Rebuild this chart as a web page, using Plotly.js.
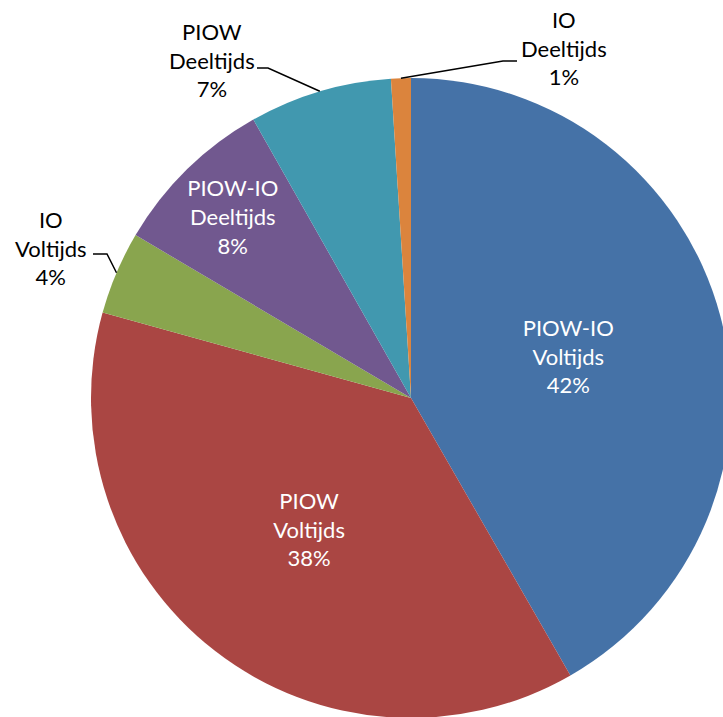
<!DOCTYPE html>
<html>
<head>
<meta charset="utf-8">
<script src="https://cdn.plot.ly/plotly-3.0.1.min.js"></script>
<style>
html,body{margin:0;padding:0;overflow:hidden;background:#fff;}
#chart{width:731px;height:718px;}
</style>
</head>
<body>
<div id="chart"></div>
<script>
// Data (percent shares, clockwise from 12 o'clock)
const categories = ["PIOW-IO<br>Voltijds", "PIOW<br>Voltijds", "IO<br>Voltijds", "PIOW-IO<br>Deeltijds", "PIOW<br>Deeltijds", "IO<br>Deeltijds"];
const values = [41.7, 37.6, 4.2, 8.3, 7.2, 1.0];
const colors = ["#4572A7", "#AA4643", "#89A54E", "#71588F", "#4198AF", "#DB843D"];
const outsideLabels = [false, false, true, false, true, true];

const W = 731, H = 718;
const cx = 411, cy = 398, R = 320;
const FONT = "Lato, 'Open Sans', sans-serif";

// label placement for outside labels: [text center x, y, stub start x, stub end x, stub y]
const outsidePlacement = {
  2: {tx: 51, ty: 248, sx0: 93, sx1: 107, sy: 254},
  4: {tx: 212, ty: 60, sx0: 257, sx1: 268, sy: 68},
  5: {tx: 564, ty: 48, sx0: 517, sx1: 503, sy: 61}
};

const px = x => x / W;
const py = y => 1 - y / H;

const total = values.reduce((a, b) => a + b, 0);
let cum = 0;
const annotations = [];
const shapes = [];
values.forEach((v, i) => {
  const mid = (cum + v / 2) / total * 2 * Math.PI;
  cum += v;
  if (!outsideLabels[i]) return;
  const ex = cx + R * Math.sin(mid);
  const ey = cy - R * Math.cos(mid);
  const p = outsidePlacement[i];
  const pct = Math.round(v / total * 100) + "%";
  annotations.push({
    x: px(p.tx), y: py(p.ty), xref: "paper", yref: "paper",
    text: categories[i] + "<br>" + pct, showarrow: false,
    xanchor: "center", yanchor: "middle", align: "center",
    font: {family: FONT, size: 22, color: "#000"}
  });
  shapes.push({
    type: "path", xref: "paper", yref: "paper",
    path: `M ${px(p.sx0)} ${py(p.sy)} L ${px(p.sx1)} ${py(p.sy)} L ${px(ex)} ${py(ey)}`,
    line: {color: "#000", width: 1.5}
  });
});

const trace = {
  type: "pie",
  labels: categories,
  values: values,
  sort: false,
  direction: "clockwise",
  rotation: 0,
  marker: {colors: colors, line: {width: 0}},
  textposition: outsideLabels.map(o => o ? "none" : "inside"),
  texttemplate: "%{label}<br>%{percent:.0%}",
  insidetextorientation: "horizontal",
  insidetextfont: {family: FONT, size: 22, color: "#fff"},
  hoverinfo: "none",
  domain: {x: [91 / W, 1], y: [0, 640 / H]}
};

Plotly.newPlot("chart", [trace], {
  width: W, height: H,
  margin: {l: 0, r: 0, t: 0, b: 0},
  showlegend: false,
  paper_bgcolor: "#fff",
  annotations: annotations,
  shapes: shapes
}, {displayModeBar: false, staticPlot: true});
</script>
</body>
</html>
